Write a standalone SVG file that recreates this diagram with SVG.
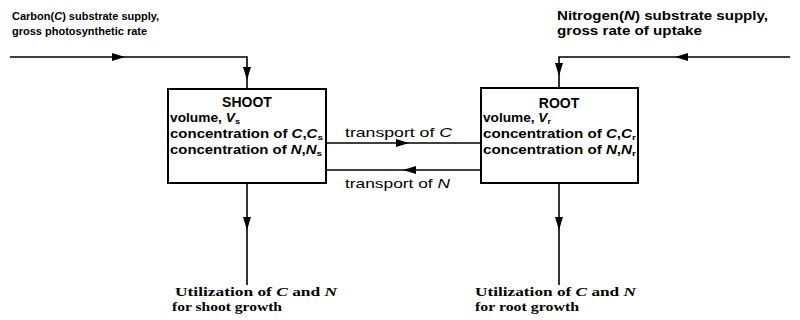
<svg xmlns="http://www.w3.org/2000/svg" width="800" height="320" viewBox="0 0 800 320">
<style>
.t{font-family:"Liberation Sans",Arial,sans-serif;font-weight:bold;font-size:12px;fill:#000}
.h{font-size:14px}
.lab{font-size:12px}
.sm{font-size:11px}
.tr{font-size:13px;font-weight:normal}
.s{font-family:"Liberation Serif","Times New Roman",serif;font-weight:bold;font-size:13px;fill:#000}
.box{fill:#fff;stroke:#000;stroke-width:2}
.ln{fill:none;stroke:#000;stroke-width:1.6}
.i{font-style:italic}
.sub{font-size:8px}
</style>
<defs>
<marker id="ah" markerUnits="userSpaceOnUse" markerWidth="13" markerHeight="8" refX="12" refY="4" orient="auto">
<path d="M0,0 L13,4 L0,8 Z" fill="#000"/>
</marker>
</defs>
<rect width="800" height="320" fill="#fff"/>
<g id="connectors">
<path class="ln" d="M10,57 H124" marker-end="url(#ah)"/>
<path class="ln" d="M124,57 H247 V79" marker-end="url(#ah)"/>
<path class="ln" d="M247,79 V89"/>
<path class="ln" d="M790,57 H676" marker-end="url(#ah)"/>
<path class="ln" d="M676,57 H559 V75" marker-end="url(#ah)"/>
<path class="ln" d="M559,75 V88"/>
<path class="ln" d="M326,143 H408" marker-end="url(#ah)"/>
<path class="ln" d="M408,143 H481"/>
<path class="ln" d="M481,170 H404" marker-end="url(#ah)"/>
<path class="ln" d="M404,170 H326"/>
<path class="ln" d="M247,183 V229" marker-end="url(#ah)"/>
<path class="ln" d="M247,229 V285"/>
<path class="ln" d="M559,183 V229" marker-end="url(#ah)"/>
<path class="ln" d="M559,229 V285"/>
</g>
<g id="shoot">
<rect class="box" x="168" y="89" width="158" height="94"/>
<text class="t h" x="247" y="107" text-anchor="middle">SHOOT</text>
<text class="t" x="170" y="122" textLength="70" lengthAdjust="spacingAndGlyphs">volume, <tspan class="i">V</tspan><tspan class="sub" dy="2">s</tspan></text>
<text class="t" x="170" y="138" textLength="153" lengthAdjust="spacingAndGlyphs">concentration of <tspan class="i">C</tspan>,<tspan class="i">C</tspan><tspan class="sub" dy="2">s</tspan></text>
<text class="t" x="170" y="154" textLength="152" lengthAdjust="spacingAndGlyphs">concentration of <tspan class="i">N</tspan>,<tspan class="i">N</tspan><tspan class="sub" dy="2">s</tspan></text>
</g>
<g id="root">
<rect class="box" x="481" y="88" width="157" height="95"/>
<text class="t h" x="559" y="108" text-anchor="middle">ROOT</text>
<text class="t" x="483" y="122" textLength="68" lengthAdjust="spacingAndGlyphs">volume, <tspan class="i">V</tspan><tspan class="sub" dy="2">r</tspan></text>
<text class="t" x="483" y="138" textLength="153" lengthAdjust="spacingAndGlyphs">concentration of <tspan class="i">C</tspan>,<tspan class="i">C</tspan><tspan class="sub" dy="2">r</tspan></text>
<text class="t" x="483" y="154" textLength="153" lengthAdjust="spacingAndGlyphs">concentration of <tspan class="i">N</tspan>,<tspan class="i">N</tspan><tspan class="sub" dy="2">r</tspan></text>
</g>
<g id="labels">
<text class="t sm" x="12" y="20">Carbon(<tspan class="i">C</tspan>) substrate supply,</text>
<text class="t sm" x="12" y="35">gross photosynthetic rate</text>
<text class="t lab" x="557" y="20" textLength="211" lengthAdjust="spacingAndGlyphs">Nitrogen(<tspan class="i">N</tspan>) substrate supply,</text>
<text class="t lab" x="557" y="35" textLength="145" lengthAdjust="spacingAndGlyphs">gross rate of uptake</text>
<text class="t tr" x="345" y="137" textLength="107" lengthAdjust="spacingAndGlyphs">transport of <tspan class="i">C</tspan></text>
<text class="t tr" x="345" y="188" textLength="105" lengthAdjust="spacingAndGlyphs">transport of <tspan class="i">N</tspan></text>
<text class="s" x="175" y="296" textLength="162" lengthAdjust="spacingAndGlyphs">Utilization of <tspan class="i">C</tspan> and <tspan class="i">N</tspan></text>
<text class="s" x="172" y="311" textLength="110" lengthAdjust="spacingAndGlyphs">for shoot growth</text>
<text class="s" x="475" y="296" textLength="161" lengthAdjust="spacingAndGlyphs">Utilization of <tspan class="i">C</tspan> and <tspan class="i">N</tspan></text>
<text class="s" x="475" y="311" textLength="104" lengthAdjust="spacingAndGlyphs">for root growth</text>
</g>
</svg>
